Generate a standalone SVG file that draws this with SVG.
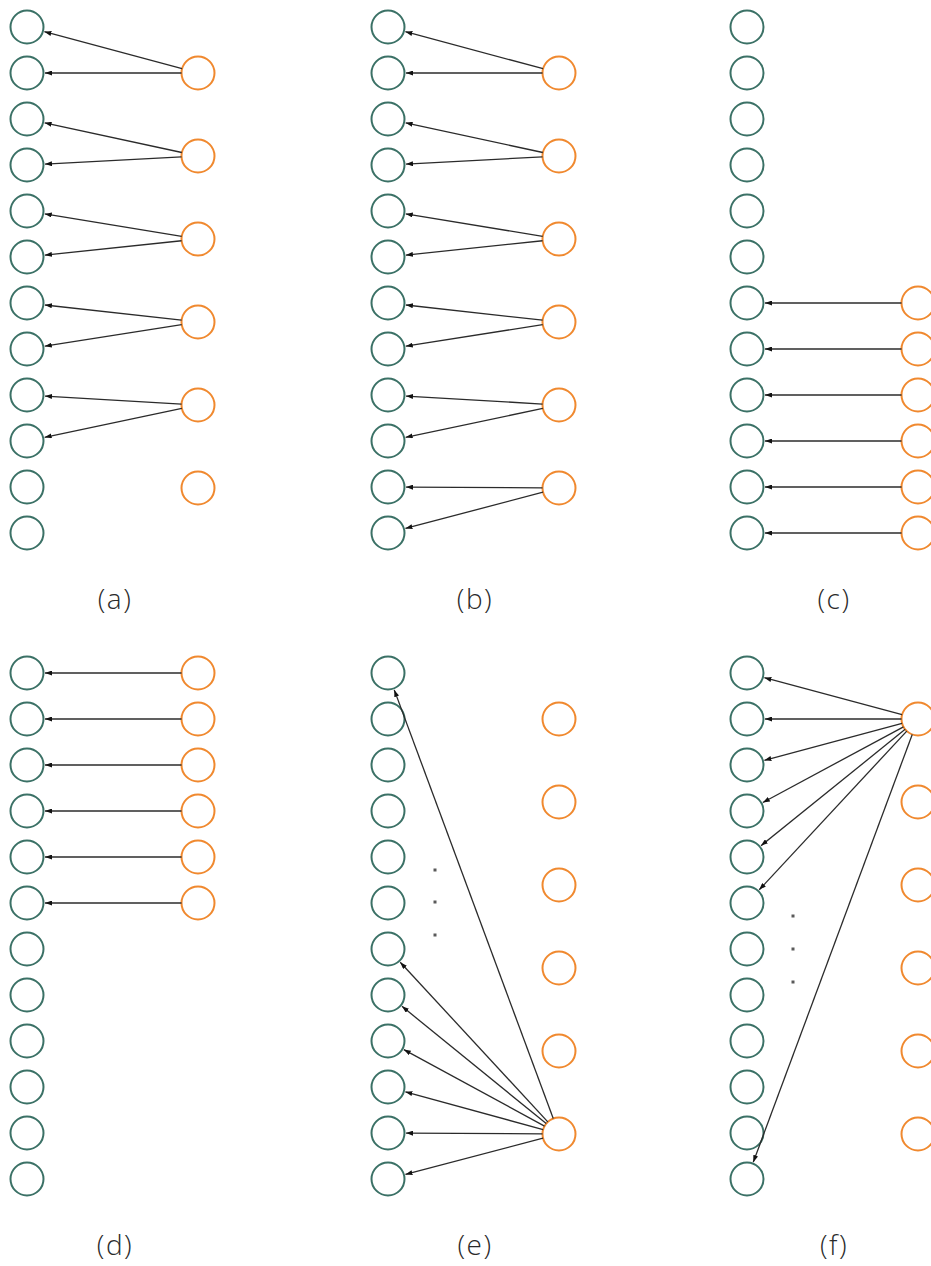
<svg xmlns="http://www.w3.org/2000/svg" width="931" height="1266" viewBox="0 0 931 1266">
  <defs>
    <style>
      .in { fill: #ffffff; stroke: #3b7166; stroke-width: 2; }
      .out { fill: #ffffff; stroke: #f0892f; stroke-width: 2; }
      .edge { fill: none; stroke: #2b2b2b; stroke-width: 1.3; marker-end: url(#tip); }
      .dot { fill: #5a5a5a; }
      .cap { font-family: "Open Sans", "Liberation Sans", sans-serif; font-weight: 300; font-size: 28px; letter-spacing: 1.5px; fill: #2a2a2a; text-anchor: middle; }
    </style>
    <marker id="tip" markerUnits="userSpaceOnUse" viewBox="0 0 7 5" refX="7" refY="2.5" markerWidth="7" markerHeight="5" orient="auto">
      <path d="M0,0 L7,2.5 L0,5 Z" fill="#111111"/>
    </marker>
    <!-- one column of 12 input nodes -->
    <g id="col12">
      <circle class="in" cx="27" cy="27" r="16.5"/>
      <circle class="in" cx="27" cy="73" r="16.5"/>
      <circle class="in" cx="27" cy="119" r="16.5"/>
      <circle class="in" cx="27" cy="165" r="16.5"/>
      <circle class="in" cx="27" cy="211" r="16.5"/>
      <circle class="in" cx="27" cy="257" r="16.5"/>
      <circle class="in" cx="27" cy="303" r="16.5"/>
      <circle class="in" cx="27" cy="349" r="16.5"/>
      <circle class="in" cx="27" cy="395" r="16.5"/>
      <circle class="in" cx="27" cy="441" r="16.5"/>
      <circle class="in" cx="27" cy="487" r="16.5"/>
      <circle class="in" cx="27" cy="533" r="16.5"/>
    </g>
  </defs>

  <!-- (a) pairs, last output unused -->
  <g id="panel-a">
    <g id="a-inputs"><use href="#col12"/></g>
    <g id="a-o0"><circle class="out" cx="198" cy="73" r="16.5"/></g>
    <g id="a-o1"><circle class="out" cx="198" cy="156" r="16.5"/></g>
    <g id="a-o2"><circle class="out" cx="198" cy="239" r="16.5"/></g>
    <g id="a-o3"><circle class="out" cx="198" cy="322" r="16.5"/></g>
    <g id="a-o4"><circle class="out" cx="198" cy="405" r="16.5"/></g>
    <g id="a-o5"><circle class="out" cx="198" cy="488" r="16.5"/></g>
    <g id="a-edges">
      <line class="edge" x1="182.07" y1="68.71" x2="44.38" y2="31.68"/>
      <line class="edge" x1="181.5" y1="73" x2="45" y2="73"/>
      <line class="edge" x1="181.87" y1="152.51" x2="44.59" y2="122.81"/>
      <line class="edge" x1="181.52" y1="156.87" x2="44.97" y2="164.05"/>
      <line class="edge" x1="181.72" y1="236.33" x2="44.76" y2="213.91"/>
      <line class="edge" x1="181.59" y1="240.73" x2="44.90" y2="255.12"/>
      <line class="edge" x1="181.60" y1="320.18" x2="44.89" y2="304.99"/>
      <line class="edge" x1="181.70" y1="324.57" x2="44.78" y2="346.19"/>
      <line class="edge" x1="181.53" y1="404.04" x2="44.97" y2="396.05"/>
      <line class="edge" x1="181.85" y1="408.40" x2="44.61" y2="437.29"/>
    </g>
    <text class="cap" x="115" y="609">(a)</text>
  </g>

  <!-- (b) pairs, all outputs used -->
  <g id="panel-b" transform="translate(361,0)">
    <g id="b-inputs"><use href="#col12"/></g>
    <g id="b-o0"><circle class="out" cx="198" cy="73" r="16.5"/></g>
    <g id="b-o1"><circle class="out" cx="198" cy="156" r="16.5"/></g>
    <g id="b-o2"><circle class="out" cx="198" cy="239" r="16.5"/></g>
    <g id="b-o3"><circle class="out" cx="198" cy="322" r="16.5"/></g>
    <g id="b-o4"><circle class="out" cx="198" cy="405" r="16.5"/></g>
    <g id="b-o5"><circle class="out" cx="198" cy="488" r="16.5"/></g>
    <g id="b-edges">
      <line class="edge" x1="182.07" y1="68.71" x2="44.38" y2="31.68"/>
      <line class="edge" x1="181.5" y1="73" x2="45" y2="73"/>
      <line class="edge" x1="181.87" y1="152.51" x2="44.59" y2="122.81"/>
      <line class="edge" x1="181.52" y1="156.87" x2="44.97" y2="164.05"/>
      <line class="edge" x1="181.72" y1="236.33" x2="44.76" y2="213.91"/>
      <line class="edge" x1="181.59" y1="240.73" x2="44.90" y2="255.12"/>
      <line class="edge" x1="181.60" y1="320.18" x2="44.89" y2="304.99"/>
      <line class="edge" x1="181.70" y1="324.57" x2="44.78" y2="346.19"/>
      <line class="edge" x1="181.53" y1="404.04" x2="44.97" y2="396.05"/>
      <line class="edge" x1="181.85" y1="408.40" x2="44.61" y2="437.29"/>
      <line class="edge" x1="181.5" y1="487.9" x2="45" y2="487.1"/>
      <line class="edge" x1="182.04" y1="492.20" x2="44.41" y2="528.42"/>
    </g>
    <text class="cap" x="114" y="609">(b)</text>
  </g>

  <!-- (c) one-to-one on the lower six inputs -->
  <g id="panel-c" transform="translate(720,0)">
    <g id="c-inputs"><use href="#col12"/></g>
    <g id="c-o0"><circle class="out" cx="198" cy="303" r="16.5"/></g>
    <g id="c-o1"><circle class="out" cx="198" cy="349" r="16.5"/></g>
    <g id="c-o2"><circle class="out" cx="198" cy="395" r="16.5"/></g>
    <g id="c-o3"><circle class="out" cx="198" cy="441" r="16.5"/></g>
    <g id="c-o4"><circle class="out" cx="198" cy="487" r="16.5"/></g>
    <g id="c-o5"><circle class="out" cx="198" cy="533" r="16.5"/></g>
    <g id="c-edges">
      <line class="edge" x1="181.5" y1="303" x2="45" y2="303"/>
      <line class="edge" x1="181.5" y1="349" x2="45" y2="349"/>
      <line class="edge" x1="181.5" y1="395" x2="45" y2="395"/>
      <line class="edge" x1="181.5" y1="441" x2="45" y2="441"/>
      <line class="edge" x1="181.5" y1="487" x2="45" y2="487"/>
      <line class="edge" x1="181.5" y1="533" x2="45" y2="533"/>
    </g>
    <text class="cap" x="114" y="609">(c)</text>
  </g>

  <!-- (d) one-to-one on the upper six inputs -->
  <g id="panel-d" transform="translate(0,646)">
    <g id="d-inputs"><use href="#col12"/></g>
    <g id="d-o0"><circle class="out" cx="198" cy="27" r="16.5"/></g>
    <g id="d-o1"><circle class="out" cx="198" cy="73" r="16.5"/></g>
    <g id="d-o2"><circle class="out" cx="198" cy="119" r="16.5"/></g>
    <g id="d-o3"><circle class="out" cx="198" cy="165" r="16.5"/></g>
    <g id="d-o4"><circle class="out" cx="198" cy="211" r="16.5"/></g>
    <g id="d-o5"><circle class="out" cx="198" cy="257" r="16.5"/></g>
    <g id="d-edges">
      <line class="edge" x1="181.5" y1="27" x2="45" y2="27"/>
      <line class="edge" x1="181.5" y1="73" x2="45" y2="73"/>
      <line class="edge" x1="181.5" y1="119" x2="45" y2="119"/>
      <line class="edge" x1="181.5" y1="165" x2="45" y2="165"/>
      <line class="edge" x1="181.5" y1="211" x2="45" y2="211"/>
      <line class="edge" x1="181.5" y1="257" x2="45" y2="257"/>
    </g>
    <text class="cap" x="115" y="609">(d)</text>
  </g>

  <!-- (e) last output fans out -->
  <g id="panel-e" transform="translate(361,646)">
    <g id="e-inputs"><use href="#col12"/></g>
    <g id="e-o0"><circle class="out" cx="198" cy="73" r="16.5"/></g>
    <g id="e-o1"><circle class="out" cx="198" cy="156" r="16.5"/></g>
    <g id="e-o2"><circle class="out" cx="198" cy="239" r="16.5"/></g>
    <g id="e-o3"><circle class="out" cx="198" cy="322" r="16.5"/></g>
    <g id="e-o4"><circle class="out" cx="198" cy="405" r="16.5"/></g>
    <g id="e-o5"><circle class="out" cx="198" cy="488" r="16.5"/></g>
    <g id="e-ellipsis">
      <rect class="dot" x="72.5" y="222.5" width="3" height="3"/>
      <rect class="dot" x="72.5" y="254.5" width="3" height="3"/>
      <rect class="dot" x="72.5" y="287.5" width="3" height="3"/>
    </g>
    <g id="e-edges">
      <line class="edge" x1="192.26" y1="472.53" x2="33.26" y2="43.88"/>
      <line class="edge" x1="186.80" y1="475.88" x2="39.22" y2="316.22"/>
      <line class="edge" x1="185.20" y1="477.59" x2="40.97" y2="360.35"/>
      <line class="edge" x1="183.50" y1="480.12" x2="42.81" y2="403.60"/>
      <line class="edge" x1="182.09" y1="483.63" x2="44.36" y2="445.77"/>
      <line class="edge" x1="181.5" y1="487.9" x2="45" y2="487.1"/>
      <line class="edge" x1="182.04" y1="492.20" x2="44.41" y2="528.42"/>
    </g>
    <text class="cap" x="114" y="609">(e)</text>
  </g>

  <!-- (f) first output fans out -->
  <g id="panel-f" transform="translate(720,646)">
    <g id="f-inputs"><use href="#col12"/></g>
    <g id="f-o0"><circle class="out" cx="198" cy="73" r="16.5"/></g>
    <g id="f-o1"><circle class="out" cx="198" cy="156" r="16.5"/></g>
    <g id="f-o2"><circle class="out" cx="198" cy="239" r="16.5"/></g>
    <g id="f-o3"><circle class="out" cx="198" cy="322" r="16.5"/></g>
    <g id="f-o4"><circle class="out" cx="198" cy="405" r="16.5"/></g>
    <g id="f-o5"><circle class="out" cx="198" cy="488" r="16.5"/></g>
    <g id="f-ellipsis">
      <rect class="dot" x="71.5" y="268.5" width="3" height="3"/>
      <rect class="dot" x="71.5" y="301.5" width="3" height="3"/>
      <rect class="dot" x="71.5" y="334.5" width="3" height="3"/>
    </g>
    <g id="f-edges">
      <line class="edge" x1="182.07" y1="68.71" x2="44.38" y2="31.68"/>
      <line class="edge" x1="181.5" y1="73" x2="45" y2="73"/>
      <line class="edge" x1="182.07" y1="77.29" x2="44.38" y2="114.32"/>
      <line class="edge" x1="183.47" y1="80.82" x2="42.85" y2="156.47"/>
      <line class="edge" x1="185.16" y1="83.36" x2="41.01" y2="199.70"/>
      <line class="edge" x1="186.77" y1="85.09" x2="39.25" y2="243.81"/>
      <line class="edge" x1="192.25" y1="88.47" x2="33.27" y2="516.13"/>
    </g>
    <text class="cap" x="114" y="609">(f)</text>
  </g>
</svg>
